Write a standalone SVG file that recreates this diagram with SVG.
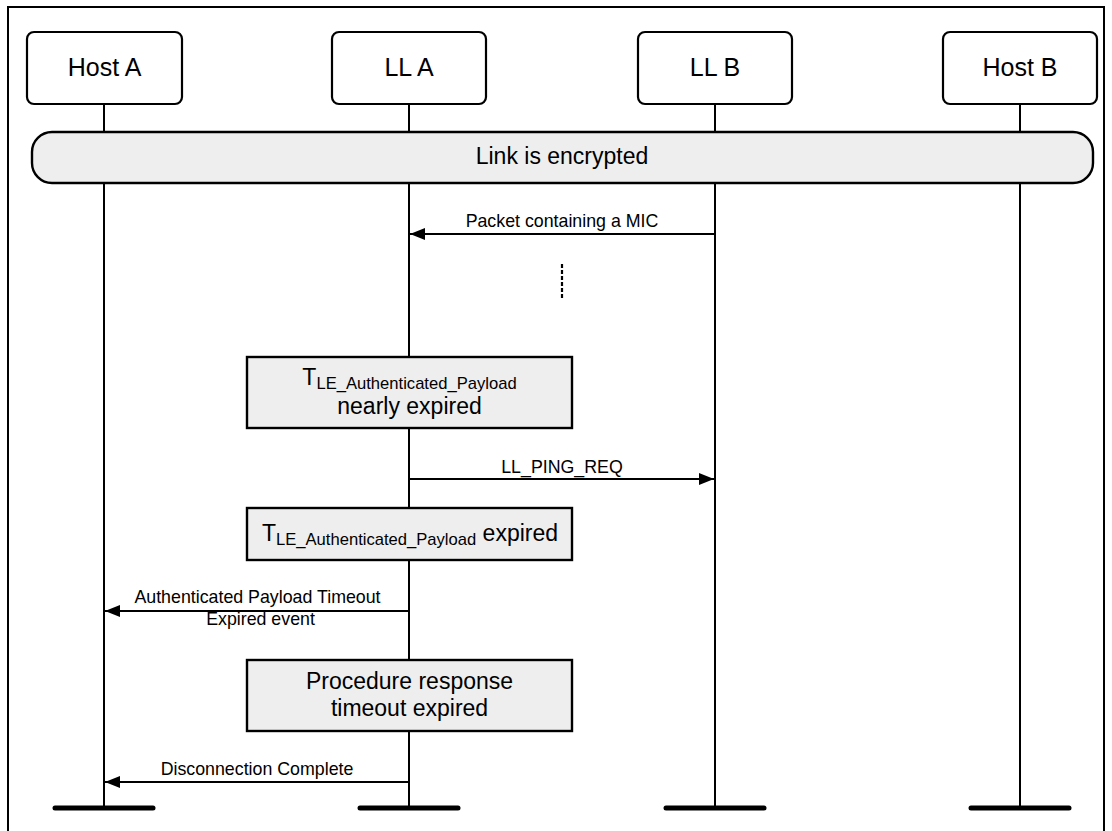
<svg xmlns="http://www.w3.org/2000/svg" width="1112" height="831" viewBox="0 0 1112 831">
<style>
.frame{fill:none;stroke:#000;stroke-width:2}
.life{stroke:#000;stroke-width:2;fill:none}
.bar{stroke:#000;stroke-width:5;stroke-linecap:round}
.hdr{fill:#fff;stroke:#000;stroke-width:2.2}
.state{fill:#eeeeee;stroke:#000;stroke-width:2.4}
.msg{stroke:#000;stroke-width:2;fill:none}
.t{font-family:"Liberation Sans",Arial,sans-serif;fill:#000;text-anchor:middle}
.h{font-size:25px}
.b{font-size:23px}
.s{font-size:16.6px}
.l{font-size:17.8px}
</style>
<defs>
<marker id="arr" markerUnits="userSpaceOnUse" markerWidth="16" markerHeight="13" refX="15" refY="6" orient="auto">
<path d="M0,0 L15,6 L0,12 z" fill="#000"/>
</marker>
</defs>
<path class="frame" d="M8,831 V7 H1104 V831"/>
<g id="lifelines">
<line class="life" x1="104" y1="104" x2="104" y2="808"/>
<line class="life" x1="409" y1="104" x2="409" y2="808"/>
<line class="life" x1="715" y1="104" x2="715" y2="808"/>
<line class="life" x1="1020" y1="104" x2="1020" y2="808"/>
<line class="bar" x1="55" y1="808" x2="153" y2="808"/>
<line class="bar" x1="360" y1="808" x2="458" y2="808"/>
<line class="bar" x1="666" y1="808" x2="764" y2="808"/>
<line class="bar" x1="971" y1="808" x2="1069" y2="808"/>
</g>
<g id="hostA"><rect class="hdr" x="27" y="32" width="155" height="72" rx="7"/><text class="t h" x="104.5" y="76">Host A</text></g>
<g id="llA"><rect class="hdr" x="332" y="32" width="154" height="72" rx="7"/><text class="t h" x="409" y="76">LL A</text></g>
<g id="llB"><rect class="hdr" x="638" y="32" width="154" height="72" rx="7"/><text class="t h" x="715" y="76">LL B</text></g>
<g id="hostB"><rect class="hdr" x="943" y="32" width="154" height="72" rx="7"/><text class="t h" x="1020" y="76">Host B</text></g>
<g id="link"><rect class="state" x="32" y="132" width="1061" height="51" rx="20"/><text class="t b" x="562" y="164">Link is encrypted</text></g>
<g id="nearly"><rect class="state" x="247" y="357" width="325" height="71"/>
<text class="t b" x="409.5" y="385">T<tspan class="s" dy="3.5">LE_Authenticated_Payload</tspan></text>
<text class="t b" x="409.5" y="414">nearly expired</text></g>
<g id="expired"><rect class="state" x="247" y="508" width="325" height="52"/>
<text class="t b" x="410" y="541">T<tspan class="s" dy="4">LE_Authenticated_Payload</tspan><tspan dy="-4"> expired</tspan></text></g>
<g id="procedure"><rect class="state" x="247" y="660" width="325" height="71"/>
<text class="t b" x="409.5" y="689">Procedure response</text>
<text class="t b" x="409.5" y="716">timeout expired</text></g>
<g id="connectors">
<line class="msg" x1="715" y1="234" x2="410" y2="234" marker-end="url(#arr)"/>
<text class="t l" x="562" y="227">Packet containing a MIC</text>
<line x1="562" y1="264" x2="562" y2="299" stroke="#000" stroke-width="2.2" stroke-dasharray="4 2"/>
<line class="msg" x1="409" y1="479" x2="714" y2="479" marker-end="url(#arr)"/>
<text class="t l" x="562" y="473">LL_PING_REQ</text>
<line class="msg" x1="409" y1="611" x2="105" y2="611" marker-end="url(#arr)"/>
<text class="t l" x="257.5" y="603">Authenticated Payload Timeout</text>
<text class="t l" x="260.5" y="625">Expired event</text>
<line class="msg" x1="409" y1="782" x2="105" y2="782" marker-end="url(#arr)"/>
<text class="t l" x="257" y="775">Disconnection Complete</text>
</g>
</svg>
